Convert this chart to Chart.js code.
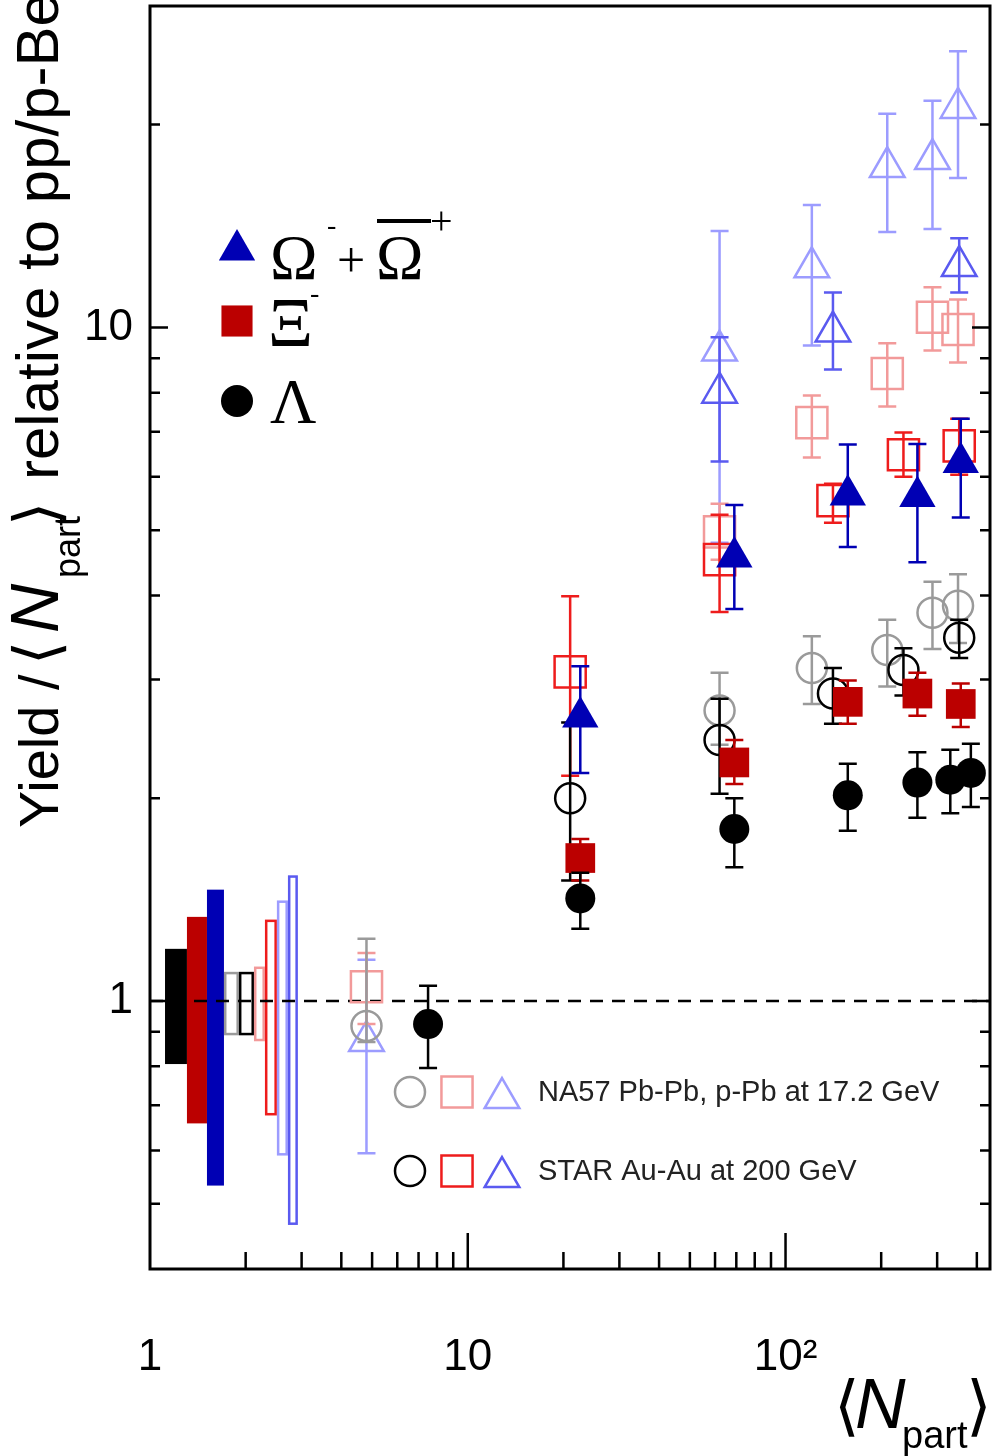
<!DOCTYPE html>
<html>
<head>
<meta charset="utf-8">
<script src="https://cdn.jsdelivr.net/npm/chart.js@4.4.1/dist/chart.umd.min.js"></script>
<style>
  html, body { margin: 0; padding: 0; background: #fff; }
</style>
</head>
<body>
<canvas id="chart" width="992" height="1456"></canvas>
<script>
// axis ranges
const xMin = 1, xMax = 440, yMin = 0.4, yMax = 30;

// ALICE Pb-Pb (filled markers)
const aliceLamNpart = [7.5, 22.6, 69, 157, 260, 330, 383];
const aliceLamY  = [0.924, 1.42, 1.80, 2.02, 2.11, 2.13, 2.18];
const aliceLamLo = [0.795, 1.28, 1.58, 1.79, 1.87, 1.90, 1.94];
const aliceLamHi = [1.053, 1.55, 2.00, 2.25, 2.34, 2.36, 2.41];

const aliceXiNpart = [22.6, 69, 157, 260, 356];
const aliceXiY  = [1.63, 2.26, 2.78, 2.86, 2.76];
const aliceXiLo = [1.51, 2.10, 2.58, 2.65, 2.55];
const aliceXiHi = [1.74, 2.44, 2.99, 3.07, 2.96];

const aliceOmNpart = [22.6, 69, 157, 260, 356];
const aliceOmY  = [2.64, 4.56, 5.64, 5.61, 6.30];
const aliceOmLo = [2.18, 3.82, 4.72, 4.48, 5.22];
const aliceOmHi = [3.14, 5.45, 6.70, 6.71, 7.32];

// STAR Au-Au 200 GeV (open, dark)
const starNpart   = [21, 62, 141, 235, 352];
const starLamY  = [2.00, 2.44, 2.86, 3.10, 3.46];
const starLamLo = [1.51, 2.03, 2.58, 2.84, 3.23];
const starLamHi = [2.59, 2.81, 3.12, 3.34, 3.68];
const starXiY  = [3.08, 4.52, 5.53, 6.47, 6.67];
const starXiLo = [2.16, 3.78, 5.13, 6.00, 6.04];
const starXiHi = [3.99, 5.27, 5.86, 6.98, 7.32];
const starOmNpart = [62, 141, 352];
const starOmY  = [8.0, 9.86, 12.33];
const starOmLo = [6.32, 8.66, 11.27];
const starOmHi = [9.67, 11.27, 13.56];

// NA57 Pb-Pb, p-Pb 17.2 GeV (open, light)
const na57Npart = [4.8, 62, 121, 209, 290, 349];
const na57LamY  = [0.918, 2.70, 3.12, 3.32, 3.77, 3.86];
const na57LamLo = [0.869, 2.40, 2.76, 2.93, 3.33, 3.40];
const na57LamHi = [1.237, 3.07, 3.48, 3.68, 4.19, 4.30];
const na57XiY  = [1.05, 4.97, 7.22, 8.54, 10.35, 9.93];
const na57XiLo = [0.924, 4.52, 6.41, 7.63, 9.24, 8.87];
const na57XiHi = [1.178, 5.47, 7.92, 9.47, 11.47, 11.0];
const na57OmY  = [0.872, 9.24, 12.28, 17.3, 17.78, 21.17];
const na57OmLo = [0.594, 4.79, 9.4, 13.85, 14.0, 16.67];
const na57OmHi = [1.151, 13.9, 15.19, 20.75, 21.7, 25.7];

// normalisation uncertainty boxes near Npart = 1
const sysX0 = [1.115, 1.307, 1.511, 1.709, 1.905, 2.124, 2.30, 2.508, 2.717];
const sysX1 = [1.307, 1.511, 1.709, 1.905, 2.124, 2.30, 2.508, 2.717, 2.92];
const sysLo = [0.806, 0.658, 0.532, 0.893, 0.893, 0.875, 0.679, 0.592, 0.467];
const sysHi = [1.195, 1.333, 1.463, 1.10, 1.10, 1.12, 1.315, 1.404, 1.530];

// axis ticks
const xTickValues = [1, 2, 3, 4, 5, 6, 7, 8, 9, 10, 20, 30, 40, 50, 60, 70, 80, 90, 100, 200, 300, 400];
const yTickValues = [0.4, 0.5, 0.6, 0.7, 0.8, 0.9, 1, 2, 3, 4, 5, 6, 7, 8, 9, 10, 20, 30];
const xTickText = { 1: '1', 10: '10', 100: '10²' };
const yTickText = { 1: '1', 10: '10' };

const C = {
  aliceLam: '#000000', aliceXi: '#bb0000', aliceOm: '#0000b4',
  starLam: '#000000', starXi: '#ee1c1c', starOm: '#5a5af0',
  na57Lam: '#9a9a9a', na57Xi: '#f29a9a', na57Om: '#9c9cff'
};
const sysColor = [C.aliceLam, C.aliceXi, C.aliceOm, C.na57Lam, C.starLam, C.na57Xi, C.starXi, C.na57Om, C.starOm];
const sysFilled = [true, true, true, false, false, false, false, false, false];

const pts = (xs, ys, lo, hi) => xs.map((x, i) => ({ x: x, y: ys[i], lo: lo[i], hi: hi[i] }));

function series(label, data, style, radius, color, filled) {
  return {
    label: label, data: data, showLine: false,
    pointStyle: style, pointRadius: radius, pointHoverRadius: radius,
    pointBackgroundColor: filled ? color : 'rgba(0,0,0,0)',
    pointBorderColor: color, pointBorderWidth: filled ? 0 : 2.5,
    errColor: color
  };
}

// first dataset ends up on top
const datasets = [
  series('ALICE Lambda', pts(aliceLamNpart, aliceLamY, aliceLamLo, aliceLamHi), 'circle', 15, C.aliceLam, true),
  series('ALICE Xi', pts(aliceXiNpart, aliceXiY, aliceXiLo, aliceXiHi), 'rect', 21, C.aliceXi, true),
  series('ALICE Omega', pts(aliceOmNpart, aliceOmY, aliceOmLo, aliceOmHi), 'triangle', 21, C.aliceOm, true),
  series('STAR Lambda', pts(starNpart, starLamY, starLamLo, starLamHi), 'circle', 15, C.starLam, false),
  series('STAR Xi', pts(starNpart, starXiY, starXiLo, starXiHi), 'rect', 22, C.starXi, false),
  series('STAR Omega', pts(starOmNpart, starOmY, starOmLo, starOmHi), 'triangle', 20, C.starOm, false),
  series('NA57 Lambda', pts(na57Npart, na57LamY, na57LamLo, na57LamHi), 'circle', 15, C.na57Lam, false),
  series('NA57 Xi', pts(na57Npart, na57XiY, na57XiLo, na57XiHi), 'rect', 22, C.na57Xi, false),
  series('NA57 Omega', pts(na57Npart, na57OmY, na57OmLo, na57OmHi), 'triangle', 20, C.na57Om, false),
  {
    label: 'unity', data: [{ x: xMin, y: 1 }, { x: xMax, y: 1 }], showLine: true,
    borderColor: '#000', borderWidth: 2.5, borderDash: [13, 9], pointRadius: 0
  }
];

function mantissa(v) {
  const m = v / Math.pow(10, Math.floor(Math.log10(v) + 1e-9));
  return Math.round(m * 1000) / 1000;
}

const errorBars = {
  id: 'errorBars',
  beforeDatasetDraw(chart, args) {
    const ds = chart.data.datasets[args.index];
    if (!ds.errColor) return;
    const { ctx, chartArea: a, scales: { x, y } } = chart;
    ctx.save();
    ctx.beginPath();
    ctx.rect(a.left, a.top, a.right - a.left, a.bottom - a.top);
    ctx.clip();
    ctx.strokeStyle = ds.errColor;
    ctx.lineWidth = 2.5;
    ds.data.forEach(p => {
      const px = x.getPixelForValue(p.x);
      const top = y.getPixelForValue(p.hi), bot = y.getPixelForValue(p.lo);
      ctx.beginPath();
      ctx.moveTo(px, top); ctx.lineTo(px, bot);
      ctx.moveTo(px - 9, top); ctx.lineTo(px + 9, top);
      ctx.moveTo(px - 9, bot); ctx.lineTo(px + 9, bot);
      ctx.stroke();
    });
    ctx.restore();
  }
};

const sysBoxes = {
  id: 'sysBoxes',
  beforeDatasetsDraw(chart) {
    const { ctx, scales: { x, y } } = chart;
    ctx.save();
    sysX0.forEach((x0, i) => {
      const l = x.getPixelForValue(x0), r = x.getPixelForValue(sysX1[i]);
      const t = y.getPixelForValue(sysHi[i]), b = y.getPixelForValue(sysLo[i]);
      if (sysFilled[i]) {
        ctx.fillStyle = sysColor[i];
        ctx.fillRect(l, t, r - l, b - t);
      } else {
        ctx.strokeStyle = sysColor[i];
        ctx.lineWidth = 2.5;
        ctx.strokeRect(l + 1.25, t, r - l - 2.5, b - t);
      }
    });
    ctx.restore();
  }
};

const overlay = {
  id: 'overlay',
  afterDraw(chart) {
    const { ctx, chartArea: a, scales: { x, y } } = chart;
    ctx.save();
    ctx.strokeStyle = '#000';
    ctx.lineWidth = 3;
    ctx.strokeRect(a.left, a.top, a.right - a.left, a.bottom - a.top);

    // inward ticks, major ones longer
    ctx.lineWidth = 2.5;
    ctx.beginPath();
    xTickValues.forEach(v => {
      if (v <= xMin || v >= xMax) return;
      const px = x.getPixelForValue(v);
      const len = mantissa(v) === 1 ? 36 : 17;
      ctx.moveTo(px, a.bottom); ctx.lineTo(px, a.bottom - len);
    });
    yTickValues.forEach(v => {
      if (v <= yMin || v >= yMax) return;
      const py = y.getPixelForValue(v);
      const len = mantissa(v) === 1 ? 18 : 10;
      ctx.moveTo(a.left, py); ctx.lineTo(a.left + len, py);
      ctx.moveTo(a.right, py); ctx.lineTo(a.right - len, py);
    });
    ctx.stroke();

    // legend markers
    const marker = (style, r, color, filled, px, py) => {
      ctx.fillStyle = filled ? color : 'rgba(0,0,0,0)';
      ctx.strokeStyle = color;
      ctx.lineWidth = 2.5;
      Chart.helpers.drawPoint(ctx, { pointStyle: style, radius: r, rotation: 0, borderWidth: filled ? 0 : 2.5 }, px, py);
    };
    marker('triangle', 21, C.aliceOm, true, 237, 250);
    marker('rect', 22, C.aliceXi, true, 237, 321);
    marker('circle', 16, C.aliceLam, true, 237, 401);

    marker('circle', 15, C.na57Lam, false, 410, 1092);
    marker('rect', 22, C.na57Xi, false, 457, 1092);
    marker('triangle', 20, C.na57Om, false, 502, 1098);
    marker('circle', 15, C.starLam, false, 410, 1171);
    marker('rect', 22, C.starXi, false, 457, 1171);
    marker('triangle', 20, C.starOm, false, 502, 1177);

    ctx.fillStyle = '#000';
    ctx.textAlign = 'left';
    ctx.textBaseline = 'alphabetic';
    ctx.font = '64px "Liberation Serif"';
    ctx.fillText('Ω', 270, 279);
    ctx.fillText('Ω', 376, 279);
    ctx.fillText('Λ', 270, 423);
    ctx.font = '70px "Liberation Serif"';
    ctx.fillText('Ξ', 268, 346);
    ctx.font = '50px "Liberation Serif"';
    ctx.fillText('+', 337, 277);
    ctx.fillRect(377, 219, 54, 4);
    ctx.font = '40px "Liberation Serif"';
    ctx.fillText('+', 430, 234);
    ctx.font = '28px "Liberation Serif"';
    ctx.fillText('-', 327, 234);
    ctx.fillText('-', 310, 302);

    ctx.fillStyle = '#222';
    ctx.font = '29px "Liberation Sans"';
    ctx.fillText('NA57 Pb-Pb, p-Pb at 17.2 GeV', 538, 1101);
    ctx.fillText('STAR Au-Au at 200 GeV', 538, 1180);

    // x title
    ctx.fillStyle = '#000';
    ctx.font = '66px "DejaVu Sans"';
    ctx.fillText('⟨', 834, 1428);
    ctx.fillText('⟩', 966, 1428);
    ctx.font = 'italic 70px "Liberation Sans"';
    ctx.fillText('N', 855, 1428);
    ctx.font = '38px "Liberation Sans"';
    ctx.fillText('part', 902, 1448);

    // y title, rotated
    ctx.translate(58, 828);
    ctx.rotate(-Math.PI / 2);
    ctx.font = '56px "Liberation Sans"';
    ctx.fillText('Yield /', 0, 0);
    ctx.font = '62px "DejaVu Sans"';
    ctx.fillText('⟨', 163, 0);
    ctx.fillText('⟩', 302, 0);
    ctx.font = 'italic 68px "Liberation Sans"';
    ctx.fillText('N', 195, 0);
    ctx.font = '36px "Liberation Sans"';
    ctx.fillText('part', 250, 22);
    ctx.font = '60px "Liberation Sans"';
    ctx.fillText('relative to pp/p-Be', 348, 0);
    ctx.restore();
  }
};

const noPad = s => { s.paddingTop = 0; s.paddingBottom = 0; s.paddingLeft = 0; s.paddingRight = 0; };

new Chart(document.getElementById('chart'), {
  type: 'scatter',
  data: { datasets: datasets },
  options: {
    responsive: false,
    animation: false,
    events: [],
    layout: { autoPadding: false, padding: { top: 6, right: 2, left: 0, bottom: 0 } },
    plugins: { legend: { display: false }, tooltip: { enabled: false } },
    scales: {
      x: {
        type: 'logarithmic', min: xMin, max: xMax,
        grid: { display: false, drawTicks: false }, border: { display: false },
        afterBuildTicks: s => { s.ticks = xTickValues.map(v => ({ value: v })); },
        ticks: {
          autoSkip: false, source: 'data', maxRotation: 0, padding: 62, color: '#000',
          font: { size: 44, family: '"Liberation Sans"' },
          callback: v => xTickText[v] !== undefined ? xTickText[v] : null
        },
        afterFit: s => { s.height = 187; noPad(s); }
      },
      y: {
        type: 'logarithmic', min: yMin, max: yMax,
        grid: { display: false, drawTicks: false }, border: { display: false },
        afterBuildTicks: s => { s.ticks = yTickValues.map(v => ({ value: v })); },
        ticks: {
          autoSkip: false, source: 'data', padding: 17, color: '#000',
          font: { size: 44, family: '"Liberation Sans"' },
          callback: v => yTickText[v] !== undefined ? yTickText[v] : null
        },
        afterFit: s => { s.width = 150; noPad(s); }
      }
    }
  },
  plugins: [sysBoxes, errorBars, overlay]
});
</script>
</body>
</html>
